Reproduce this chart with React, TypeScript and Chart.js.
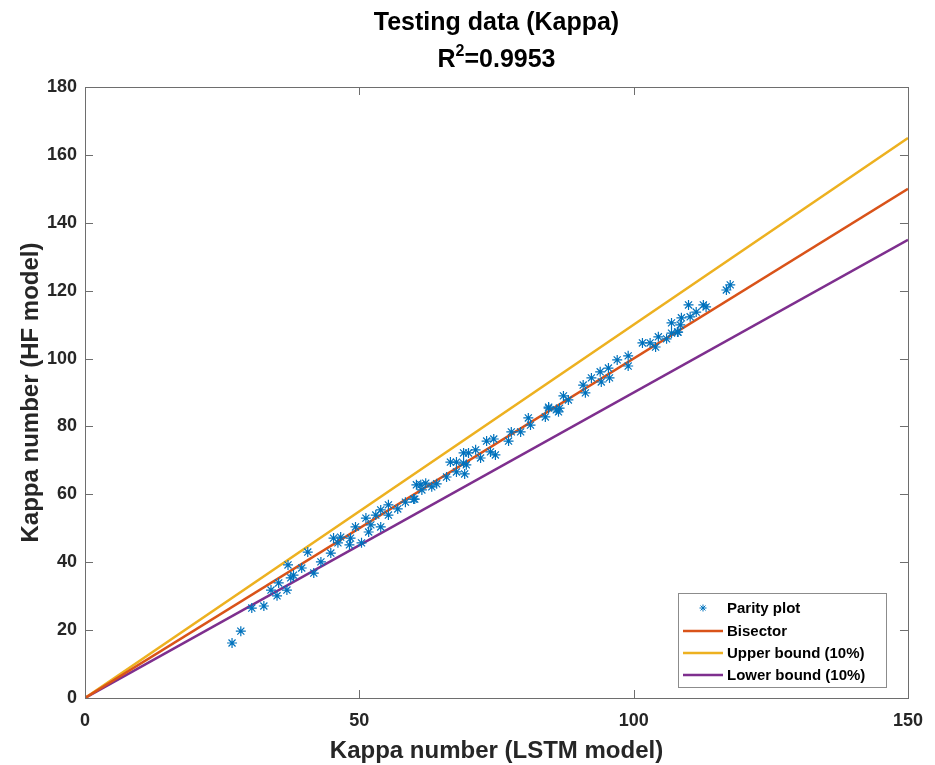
import React, { useEffect, useRef } from "react";
import { Chart, registerables } from "chart.js";

Chart.register(...registerables);

// Parity data: LSTM-predicted Kappa number vs HF-model Kappa number
const lstmKappa = [
  26.8, 28.4, 30.4, 32.6, 33.9, 35.0, 35.3, 36.8, 37.5, 38.0, 37.0, 39.5, 41.7, 43.0,
  40.6, 44.8, 45.3, 46.6, 46.1, 48.4, 48.2, 50.4, 49.3, 51.2, 53.0, 52.1, 51.7, 53.9,
  53.9, 55.3, 55.3, 57.0, 58.4, 59.9, 60.4, 60.1, 61.2, 62.1, 61.4, 63.2, 64.1, 65.9,
  66.6, 67.7, 69.0, 69.9, 71.2, 69.0, 69.5, 67.7, 69.2, 72.1, 73.2, 74.5, 73.9, 74.8,
  77.2, 77.7, 79.4, 80.8, 81.2, 83.9, 84.5, 85.9, 84.5, 86.5, 86.3, 87.2, 88.1, 90.8,
  91.2, 92.3, 93.9, 94.1, 95.4, 95.6, 97.0, 99.0, 99.0, 101.6, 103.0, 104.0, 104.5,
  106.0, 106.9, 108.1, 106.9, 108.0, 108.5, 108.7, 110.0, 110.3, 111.4, 112.7, 113.2,
  116.9, 117.6,
];
const hfKappa = [
  16.2, 19.7, 26.5, 27.1, 31.8, 30.1, 33.9, 31.8, 35.4, 36.2, 39.2, 38.3, 36.8, 40.1,
  43.0, 42.7, 47.1, 47.4, 45.7, 47.1, 45.1, 45.7, 50.4, 53.0, 53.9, 51.0, 48.9, 50.4,
  55.4, 56.9, 53.9, 55.7, 57.7, 58.6, 62.8, 58.6, 62.8, 63.3, 61.3, 62.2, 63.1, 65.1,
  69.5, 69.5, 72.2, 72.2, 73.1, 69.2, 68.7, 66.6, 66.0, 70.7, 75.7, 76.3, 72.5, 71.6,
  75.7, 78.4, 78.4, 82.5, 80.4, 82.8, 85.7, 84.9, 85.4, 85.4, 84.3, 89.0, 87.8, 92.2,
  89.9, 94.3, 96.1, 93.1, 97.2, 94.3, 99.6, 100.8, 97.8, 104.6, 104.6, 103.4, 106.4,
  105.8, 107.5, 107.8, 110.5, 107.8, 109.9, 112.0, 115.8, 112.3, 113.7, 115.8, 115.2,
  120.2, 121.7,
];

// Reference lines: y = x and ±10% bounds
const lineX = [0, 150];
const bisectorY = [0, 150];
const upperY = [0, 165];
const lowerY = [0, 135];

const xTicks = [0, 50, 100, 150];
const yTicks = [0, 20, 40, 60, 80, 100, 120, 140, 160, 180];

const titleText = "Testing data (Kappa)";
const r2Value = "0.9953";
const xLabel = "Kappa number (LSTM model)";
const yLabel = "Kappa number (HF model)";

const legendItems = ["Parity plot", "Bisector", "Upper bound (10%)", "Lower bound (10%)"];

const C_POINTS = "#0072BD";
const C_BISECT = "#D95319";
const C_UPPER = "#EDB120";
const C_LOWER = "#7E2F8E";
const FONT = "'Liberation Sans', Arial, Helvetica, sans-serif";
const TEXT = "#262626";

const frame = {
  id: "matlabFrame",
  afterDraw(chart: any) {
    const { ctx, chartArea: a, scales } = chart;
    const xs = scales.x;
    const ys = scales.y;
    ctx.save();

    // axes box and inward ticks on all four sides
    ctx.strokeStyle = "#6e6e6e";
    ctx.lineWidth = 1;
    ctx.strokeRect(Math.round(a.left) + 0.5, Math.round(a.top) + 0.5,
      Math.round(a.right - a.left), Math.round(a.bottom - a.top));
    const tl = 8;
    ctx.beginPath();
    xTicks.forEach((v) => {
      const px = Math.round(xs.getPixelForValue(v)) + 0.5;
      ctx.moveTo(px, a.bottom); ctx.lineTo(px, a.bottom - tl);
      ctx.moveTo(px, a.top); ctx.lineTo(px, a.top + tl);
    });
    yTicks.forEach((v) => {
      const py = Math.round(ys.getPixelForValue(v)) + 0.5;
      ctx.moveTo(a.left, py); ctx.lineTo(a.left + tl, py);
      ctx.moveTo(a.right, py); ctx.lineTo(a.right - tl, py);
    });
    ctx.stroke();

    const cx = (a.left + a.right) / 2;
    ctx.fillStyle = "#000";
    ctx.textBaseline = "alphabetic";

    // title, first line
    ctx.font = `bold 25px ${FONT}`;
    ctx.textAlign = "center";
    ctx.fillText(titleText, cx, 30);

    // title, second line with superscript
    const big = `bold 25px ${FONT}`;
    const small = `bold 16px ${FONT}`;
    ctx.font = big;
    const wR = ctx.measureText("R").width;
    const wRest = ctx.measureText("=" + r2Value).width;
    ctx.font = small;
    const w2 = ctx.measureText("2").width;
    let sx = cx - (wR + w2 + wRest) / 2;
    ctx.textAlign = "left";
    ctx.font = big;
    ctx.fillText("R", sx, 67);
    sx += wR;
    ctx.font = small;
    ctx.fillText("2", sx, 56);
    sx += w2;
    ctx.font = big;
    ctx.fillText("=" + r2Value, sx, 67);

    // axis titles
    ctx.fillStyle = TEXT;
    ctx.font = `bold 24px ${FONT}`;
    ctx.textAlign = "center";
    ctx.fillText(xLabel, cx, 758);
    ctx.save();
    ctx.translate(38, (a.top + a.bottom) / 2);
    ctx.rotate(-Math.PI / 2);
    ctx.fillText(yLabel, 0, 0);
    ctx.restore();

    // legend box
    const lx = 678, ly = 593, lw = 208, lh = 94;
    ctx.fillStyle = "#fff";
    ctx.fillRect(lx, ly, lw, lh);
    ctx.strokeStyle = "#8c8c8c";
    ctx.strokeRect(lx + 0.5, ly + 0.5, lw, lh);
    const rows = [608, 631, 653, 675];
    const colors = [C_POINTS, C_BISECT, C_UPPER, C_LOWER];
    ctx.font = `bold 15px ${FONT}`;
    ctx.textAlign = "left";
    ctx.textBaseline = "middle";
    legendItems.forEach((label, i) => {
      const y = rows[i];
      if (i === 0) {
        ctx.strokeStyle = C_POINTS;
        ctx.lineWidth = 1;
        const r = 3.5, mx = 703;
        ctx.beginPath();
        ctx.moveTo(mx - r, y); ctx.lineTo(mx + r, y);
        ctx.moveTo(mx, y - r); ctx.lineTo(mx, y + r);
        const d = r * 0.707;
        ctx.moveTo(mx - d, y - d); ctx.lineTo(mx + d, y + d);
        ctx.moveTo(mx - d, y + d); ctx.lineTo(mx + d, y - d);
        ctx.stroke();
      } else {
        ctx.strokeStyle = colors[i];
        ctx.lineWidth = 2.5;
        ctx.beginPath();
        ctx.moveTo(683, y); ctx.lineTo(723, y);
        ctx.stroke();
      }
      ctx.fillStyle = "#000";
      ctx.fillText(label, 727, y + 1);
    });

    ctx.restore();
  },
};

export default function App() {
  const ref = useRef<HTMLCanvasElement>(null);

  useEffect(() => {
    document.body.style.margin = "0";
    const canvas = ref.current;
    if (!canvas) return;

    const toPts = (xsArr: number[], ysArr: number[]) =>
      xsArr.map((x, i) => ({ x, y: ysArr[i] }));

    const chart = new Chart(canvas, {
      type: "scatter",
      data: {
        datasets: [
          {
            label: legendItems[0],
            data: toPts(lstmKappa, hfKappa),
            pointStyle: "star",
            radius: 5,
            borderColor: C_POINTS,
            backgroundColor: C_POINTS,
            borderWidth: 1.2,
          },
          {
            label: legendItems[1],
            type: "line",
            data: toPts(lineX, bisectorY),
            borderColor: C_BISECT,
            borderWidth: 2.5,
            pointRadius: 0,
          },
          {
            label: legendItems[2],
            type: "line",
            data: toPts(lineX, upperY),
            borderColor: C_UPPER,
            borderWidth: 2.5,
            pointRadius: 0,
          },
          {
            label: legendItems[3],
            type: "line",
            data: toPts(lineX, lowerY),
            borderColor: C_LOWER,
            borderWidth: 2.5,
            pointRadius: 0,
          },
        ],
      } as any,
      options: {
        animation: false,
        responsive: false,
        devicePixelRatio: 1,
        layout: { padding: { left: 0, right: 24, top: 87, bottom: 0 }, autoPadding: false } as any,
        plugins: {
          legend: { display: false },
          tooltip: { enabled: false },
          title: { display: false },
        },
        scales: {
          x: {
            type: "linear",
            min: 0,
            max: 150,
            afterFit: (s: any) => { s.height = 67; },
            afterBuildTicks: (s: any) => { s.ticks = xTicks.map((v) => ({ value: v })); },
            grid: { display: false, drawTicks: false },
            border: { display: false },
            ticks: {
              padding: 12,
              color: TEXT,
              font: { family: FONT, size: 18, weight: "bold" },
              maxRotation: 0,
            },
          },
          y: {
            type: "linear",
            min: 0,
            max: 180,
            afterFit: (s: any) => { s.width = 85; },
            afterBuildTicks: (s: any) => { s.ticks = yTicks.map((v) => ({ value: v })); },
            grid: { display: false, drawTicks: false },
            border: { display: false },
            ticks: {
              padding: 8,
              color: TEXT,
              font: { family: FONT, size: 18, weight: "bold" },
            },
          },
        },
      },
      plugins: [frame],
    });

    return () => chart.destroy();
  }, []);

  return (
    <div style={{ position: "absolute", left: 0, top: 0, width: 935, height: 765, background: "#fff" }}>
      <canvas ref={ref} width={935} height={765} style={{ width: 935, height: 765, display: "block" }} />
    </div>
  );
}
